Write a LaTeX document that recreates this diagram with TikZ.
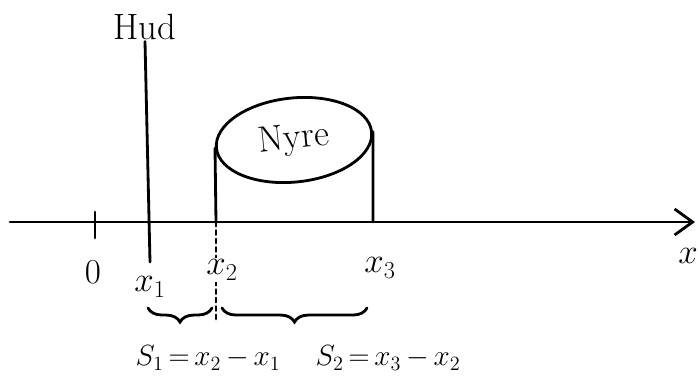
\documentclass[tikz,border=0pt]{standalone}
\usepackage{tikz}
\usetikzlibrary{positioning, arrows.meta, shapes.geometric, decorations.pathreplacing}

\begin{document}
\begin{tikzpicture}[
    x=0.025cm, y=-0.025cm,
    font=\fontsize{26}{30}\selectfont,
    line/.style={draw=black, line width=2pt, line cap=round},
    axis/.style={line, -{Straight Barb[length=4.5mm, width=6.5mm, line width=2pt]}},
    lbl/.style={inner sep=1pt},
    organ/.style={line, ellipse, minimum width=3.9cm, minimum height=2.1cm, inner sep=0pt},
    guide/.style={line, dashed},
    brace/.style={line, decorate, decoration={brace, mirror, amplitude=10pt}},
    eq/.style={inner sep=1pt, font=\fontsize{22}{26}\selectfont},
]
\useasboundingbox (0,0) rectangle (698,382);

\coordinate (start) at (10,222);
\coordinate (end) at (695,222);
\draw[axis] (start) -- (end);
\node[lbl] (xlab) at (688,256) {$x$};

\coordinate (t0a) at (95,212);
\coordinate (t0b) at (95,238);
\draw[line] (t0a) -- (t0b);
\node[lbl] (zero) at (93,272) {$0$};

\node[lbl] (hud) at (145,27) {Hud};
\coordinate (h1) at (150,262);
\draw[line] (hud.south) -- (h1);

\node[organ, rotate=6] (nyre) at (294,140) {Nyre};
\coordinate (a2) at (216,222);
\coordinate (a3) at (373,222);
\coordinate (g2) at (216,322);
\draw[line] (nyre.west) -- (a2);
\draw[line] (nyre.east) -- (a3);
\draw[guide] (a2) -- (g2);

\node[lbl] (x1) at (150,287) {$x_1$};
\node[lbl, fill=white] (x2) at (222,270) {$x_2$};
\node[lbl] (x3) at (380,268) {$x_3$};

\coordinate (b1l) at (148,308);
\coordinate (b1r) at (212,308);
\coordinate (b2l) at (222,308);
\coordinate (b2r) at (367,308);
\draw[brace] (b1l) -- (b1r);
\draw[brace] (b2l) -- (b2r);

\node[eq] (s1) at (208,358) {$S_1\,{=}\,x_2\,{-}\,x_1$};
\node[eq] (s2) at (388,358) {$S_2\,{=}\,x_3\,{-}\,x_2$};

\end{tikzpicture}
\end{document}
